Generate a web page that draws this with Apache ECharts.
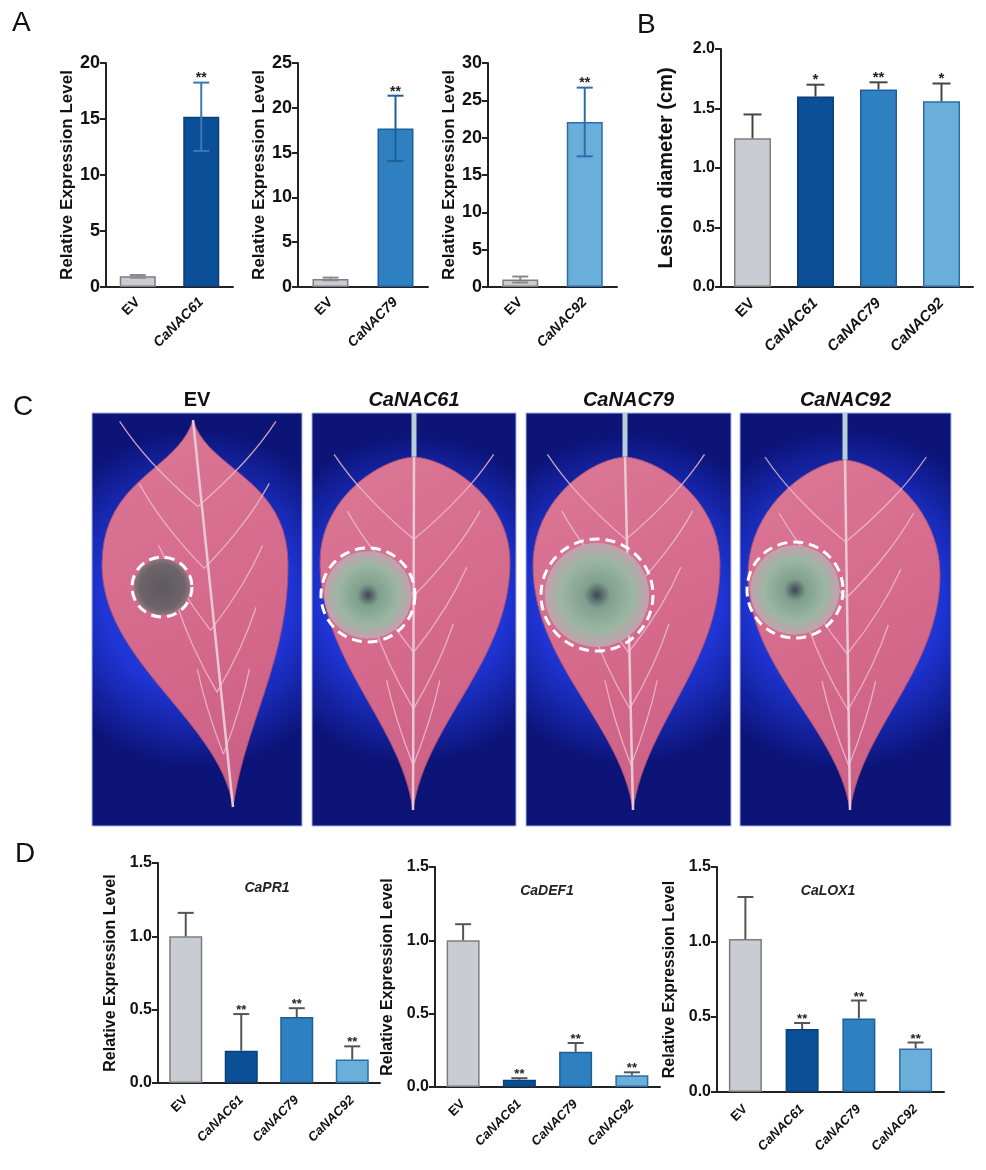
<!DOCTYPE html>
<html>
<head>
<meta charset="utf-8">
<script src="https://cdn.jsdelivr.net/npm/echarts@6/dist/echarts.min.js"></script>
<style>
  html, body { margin: 0; padding: 0; background: #fff; }
  #main { width: 986px; height: 1170px; }
</style>
</head>
<body>
<div id="main"></div>
<script>
// ---- data ----
const groupsA1 = ['EV', 'CaNAC61']
const groupsA2 = ['EV', 'CaNAC79']
const groupsA3 = ['EV', 'CaNAC92']
const groupsAll = ['EV', 'CaNAC61', 'CaNAC79', 'CaNAC92']

const a1Mean = [0.95, 15.2]
const a1Err = [0.12, 3.05]
const a2Mean = [0.9, 17.7]
const a2Err = [0.15, 3.65]
const a3Mean = [1.0, 22.1]
const a3Err = [0.4, 4.6]
const sigA = ['', '**']

const lesionMean = [1.25, 1.6, 1.66, 1.56]
const lesionErr = [0.2, 0.1, 0.06, 0.15]
const sigB = ['', '*', '**', '*']

const pr1Mean = [1.0, 0.22, 0.45, 0.16]
const pr1Err = [0.16, 0.25, 0.06, 0.09]
const def1Mean = [1.0, 0.05, 0.24, 0.08]
const def1Err = [0.11, 0.01, 0.06, 0.02]
const lox1Mean = [1.02, 0.42, 0.49, 0.29]
const lox1Err = [0.28, 0.04, 0.12, 0.04]
const sigD = ['', '**', '**', '**']

const photoTitles = ['EV', 'CaNAC61', 'CaNAC79', 'CaNAC92']

// ---- styles ----
const FONT = 'Liberation Sans, Arial, sans-serif'
const fill = { EV: '#c9cdd3', CaNAC61: '#0b4f97', CaNAC79: '#2f80c0', CaNAC92: '#6aafda' }
const edge = { EV: '#7d7d7d', CaNAC61: '#0a3f7a', CaNAC79: '#1e5f98', CaNAC92: '#2c6ca8' }
const errA = { EV: '#8a8a8a', CaNAC61: '#3b78b4', CaNAC79: '#1e5f98', CaNAC92: '#2c6ca8' }

const main = document.getElementById('main')
let myChart = echarts.init(main)

const grids = [
    { left: 106, top: 63, width: 127, height: 224 },   // A1
    { left: 298, top: 63, width: 130, height: 224 },   // A2
    { left: 488, top: 63, width: 129, height: 224 },   // A3
    { left: 721, top: 49, width: 252, height: 238 },   // B
    { left: 158, top: 863, width: 222, height: 220 },  // D1
    { left: 435, top: 867, width: 225, height: 220 },  // D2
    { left: 717, top: 867, width: 227, height: 225 }   // D3
]

function xAxis(idx, cats, size, margin) {
    return {
        type: 'category', gridIndex: idx, data: cats,
        axisLine: { lineStyle: { color: '#222', width: 2 } },
        axisTick: { alignWithLabel: true, length: 6, lineStyle: { color: '#222', width: 2 } },
        axisLabel: {
            rotate: 45, margin: margin, interval: 0,
            formatter: v => v === 'EV' ? `{n|${v}}` : `{i|${v}}`,
            rich: {
                n: { fontFamily: FONT, fontWeight: 'bold', fontSize: size, color: '#111' },
                i: { fontFamily: FONT, fontWeight: 'bold', fontStyle: 'italic', fontSize: size, color: '#111' }
            }
        }
    }
}

function yAxis(idx, max, interval, name, nameSize, nameGap, labSize, digits) {
    return {
        type: 'value', gridIndex: idx, min: 0, max: max, interval: interval,
        name: name, nameLocation: 'middle', nameGap: nameGap,
        nameTextStyle: { fontFamily: FONT, fontWeight: 'bold', fontSize: nameSize, color: '#111' },
        splitLine: { show: false },
        axisLine: { show: true, lineStyle: { color: '#222', width: 2 } },
        axisTick: { show: true, length: 6, lineStyle: { color: '#222', width: 2 } },
        axisLabel: {
            fontFamily: FONT, fontWeight: 'bold', fontSize: labSize, color: '#111', margin: 6,
            formatter: v => v.toFixed(digits)
        }
    }
}

function barSeries(idx, cats, means, width) {
    return {
        type: 'bar', xAxisIndex: idx, yAxisIndex: idx, barWidth: width,
        data: means.map((m, i) => ({
            value: m,
            itemStyle: { color: fill[cats[i]], borderColor: edge[cats[i]], borderWidth: 1.5 }
        })),
        z: 2
    }
}

function errSeries(idx, cats, means, errs, sig, colors, both, cap, starSize) {
    return {
        type: 'custom', xAxisIndex: idx, yAxisIndex: idx, z: 5,
        data: means.map((m, i) => [i, m, errs[i]]),
        renderItem: (params, api) => {
            const i = api.value(0), m = api.value(1), e = api.value(2)
            const top = api.coord([i, m + e])
            const bot = api.coord([i, both ? m - e : m])
            const c = typeof colors === 'string' ? colors : colors[cats[params.dataIndex]]
            const st = { stroke: c, lineWidth: 2 }
            const kids = [
                { type: 'line', shape: { x1: top[0], y1: top[1], x2: bot[0], y2: bot[1] }, style: st },
                { type: 'line', shape: { x1: top[0] - cap, y1: top[1], x2: top[0] + cap, y2: top[1] }, style: st }
            ]
            if (both) {
                kids.push({ type: 'line', shape: { x1: bot[0] - cap, y1: bot[1], x2: bot[0] + cap, y2: bot[1] }, style: st })
            }
            const s = sig[params.dataIndex]
            if (s) {
                kids.push({
                    type: 'text',
                    style: {
                        text: s, x: top[0], y: top[1] + 3, align: 'center', verticalAlign: 'bottom',
                        font: `bold ${starSize}px ${FONT}`, fill: '#222'
                    }
                })
            }
            return { type: 'group', children: kids }
        }
    }
}

// ---- leaf photos (panel C), drawn as plain shapes ----
const photoTop = 413, photoBottom = 826
const photos = [
    { x: 92, w: 210, stem: 193, base: 420, wide: 565, l: 102, r: 288, tip: [233, 807], pointy: true, lesion: [162, 587, 30], dark: true },
    { x: 312, w: 204, stem: 414, base: 457, wide: 562, l: 320, r: 510, tip: [413, 810], lesion: [368, 595, 47] },
    { x: 526, w: 205, stem: 625, base: 457, wide: 565, l: 533, r: 720, tip: [633, 810], lesion: [597, 595, 56] },
    { x: 740, w: 211, stem: 845, base: 460, wide: 575, l: 748, r: 940, tip: [850, 810], lesion: [795, 590, 48] }
]

function bez(p0, p1, p2, p3, n, out) {
    for (let k = 0; k <= n; k++) {
        const t = k / n, u = 1 - t
        out.push([
            u * u * u * p0[0] + 3 * u * u * t * p1[0] + 3 * u * t * t * p2[0] + t * t * t * p3[0],
            u * u * u * p0[1] + 3 * u * u * t * p1[1] + 3 * u * t * t * p2[1] + t * t * t * p3[1]
        ])
    }
}

function leafOutline(p) {
    const sx = p.stem, yb = p.base, ym = p.wide, tx = p.tip[0], ty = p.tip[1]
    const u = ym - yb, d = ty - ym
    const c1 = p.pointy ? [15, u * 0.35] : [35, u * 0.02]
    const pts = []
    bez([sx, yb], [sx - c1[0], yb + c1[1]], [p.l, ym - u * 0.6], [p.l, ym], 20, pts)
    bez([p.l, ym], [p.l, ym + d * 0.4], [tx - 12, ty - d * 0.35], [tx, ty], 30, pts)
    bez([tx, ty], [tx + 12, ty - d * 0.35], [p.r, ym + d * 0.4], [p.r, ym], 30, pts)
    bez([p.r, ym], [p.r, ym - u * 0.6], [sx + c1[0], yb + c1[1]], [sx, yb], 20, pts)
    return pts
}

const graphic = []
const panelLabel = (t, x, y) => ({ type: 'text', x: x, y: y, style: { text: t, font: `28px ${FONT}`, fill: '#111' } })
graphic.push(panelLabel('A', 12, 9), panelLabel('B', 637, 11), panelLabel('C', 13, 393), panelLabel('D', 15, 840))

photos.forEach((p, k) => {
    graphic.push({
        type: 'rect', shape: { x: p.x, y: photoTop, width: p.w, height: photoBottom - photoTop },
        style: {
            fill: new echarts.graphic.RadialGradient(0.5, 0.45, 0.8, [
                { offset: 0, color: '#2f4cf0' }, { offset: 0.55, color: '#1f35d6' }, { offset: 1, color: '#0c1478' }
            ]),
            stroke: '#a8b0e0', lineWidth: 1
        }
    })
    if (!p.pointy) {
        graphic.push({
            type: 'line', shape: { x1: p.stem, y1: photoTop, x2: p.stem, y2: p.base + 4 },
            style: { stroke: '#b8cfd8', lineWidth: 5 }
        })
    }
    graphic.push({
        type: 'polygon', shape: { points: leafOutline(p) },
        style: {
            fill: new echarts.graphic.LinearGradient(0, 0, 1, 1, [
                { offset: 0, color: '#dc7896' }, { offset: 0.5, color: '#d56a8c' }, { offset: 1, color: '#c85e84' }
            ]),
            stroke: '#a85077', lineWidth: 1
        }
    })
    // side veins
    for (let j = 0; j < 5; j++) {
        const f = 0.12 + j * 0.16
        const fy = p.base + (p.tip[1] - p.base) * f
        const fx = p.stem + (p.tip[0] - p.stem) * f
        const dx = (p.r - p.l) * (0.42 - j * 0.07)
        graphic.push({
            type: 'polyline', shape: { points: [[fx, fy + 40], [fx - dx * 0.6, fy - 5], [fx - dx, fy - 45]], smooth: 0.5 },
            style: { stroke: '#ecbccd', lineWidth: 1.3, fill: null, opacity: 0.85 }
        })
        graphic.push({
            type: 'polyline', shape: { points: [[fx, fy + 40], [fx + dx * 0.6, fy - 5], [fx + dx, fy - 45]], smooth: 0.5 },
            style: { stroke: '#ecbccd', lineWidth: 1.3, fill: null, opacity: 0.85 }
        })
    }
    // midrib
    graphic.push({
        type: 'polyline', shape: { points: [[p.stem, p.base], [p.stem + (p.tip[0] - p.stem) * 0.5, (p.base + p.tip[1]) / 2], [p.tip[0], p.tip[1]]] },
        style: { stroke: '#e8c8d6', lineWidth: 2.5, fill: null }
    })
    const [cx, cy, r] = p.lesion
    graphic.push({
        type: 'circle', shape: { cx: cx, cy: cy, r: r * 0.93 },
        style: {
            fill: new echarts.graphic.RadialGradient(0.5, 0.5, 0.5, p.dark ? [
                { offset: 0, color: '#5e5a5e' }, { offset: 0.8, color: '#6c6468' }, { offset: 1, color: '#8a767e' }
            ] : [
                { offset: 0, color: '#3e4656' }, { offset: 0.25, color: '#7fa08e' },
                { offset: 0.7, color: '#9db6a4' }, { offset: 1, color: '#c4a0ae' }
            ])
        }
    })
    graphic.push({
        type: 'circle', shape: { cx: cx, cy: cy, r: r },
        style: { fill: null, stroke: '#ffffff', lineWidth: 3, lineDash: [10, 6] }
    })
    graphic.push({
        type: 'text', x: p.x + p.w / 2, y: 400,
        style: {
            text: photoTitles[k], align: 'center', verticalAlign: 'middle',
            font: `${k === 0 ? '' : 'italic '}bold 20px ${FONT}`, fill: '#111'
        }
    })
})

// gene titles in panel D
const dTitles = [['CaPR1', 267, 888], ['CaDEF1', 547, 891], ['CaLOX1', 828, 891]]
dTitles.forEach(([t, x, y]) => {
    graphic.push({
        type: 'text', x: x, y: y,
        style: { text: t, align: 'center', verticalAlign: 'middle', font: `italic bold 14px ${FONT}`, fill: '#222' }
    })
})

const relName = 'Relative Expression Level'

myChart.setOption({
    animation: false,
    grid: grids,
    xAxis: [
        xAxis(0, groupsA1, 14, 13), xAxis(1, groupsA2, 14, 13), xAxis(2, groupsA3, 14, 13),
        xAxis(3, groupsAll, 15, 14),
        xAxis(4, groupsAll, 13, 15), xAxis(5, groupsAll, 13, 15), xAxis(6, groupsAll, 13, 15)
    ],
    yAxis: [
        yAxis(0, 20, 5, relName, 17, 30, 18, 0),
        yAxis(1, 25, 5, relName, 17, 30, 18, 0),
        yAxis(2, 30, 5, relName, 17, 30, 18, 0),
        yAxis(3, 2, 0.5, 'Lesion diameter (cm)', 20, 45, 16, 1),
        yAxis(4, 1.5, 0.5, relName, 16, 39, 16, 1),
        yAxis(5, 1.5, 0.5, relName, 16, 39, 16, 1),
        yAxis(6, 1.5, 0.5, relName, 16, 39, 16, 1)
    ],
    series: [
        barSeries(0, groupsA1, a1Mean, 36), errSeries(0, groupsA1, a1Mean, a1Err, sigA, errA, true, 8, 14),
        barSeries(1, groupsA2, a2Mean, 36), errSeries(1, groupsA2, a2Mean, a2Err, sigA, errA, true, 8, 14),
        barSeries(2, groupsA3, a3Mean, 36), errSeries(2, groupsA3, a3Mean, a3Err, sigA, errA, true, 8, 14),
        barSeries(3, groupsAll, lesionMean, 37), errSeries(3, groupsAll, lesionMean, lesionErr, sigB, '#444', false, 9, 15),
        barSeries(4, groupsAll, pr1Mean, 33), errSeries(4, groupsAll, pr1Mean, pr1Err, sigD, '#555', false, 8, 13),
        barSeries(5, groupsAll, def1Mean, 33), errSeries(5, groupsAll, def1Mean, def1Err, sigD, '#555', false, 8, 13),
        barSeries(6, groupsAll, lox1Mean, 33), errSeries(6, groupsAll, lox1Mean, lox1Err, sigD, '#555', false, 8, 13)
    ],
    graphic: graphic
})
</script>
</body>
</html>
